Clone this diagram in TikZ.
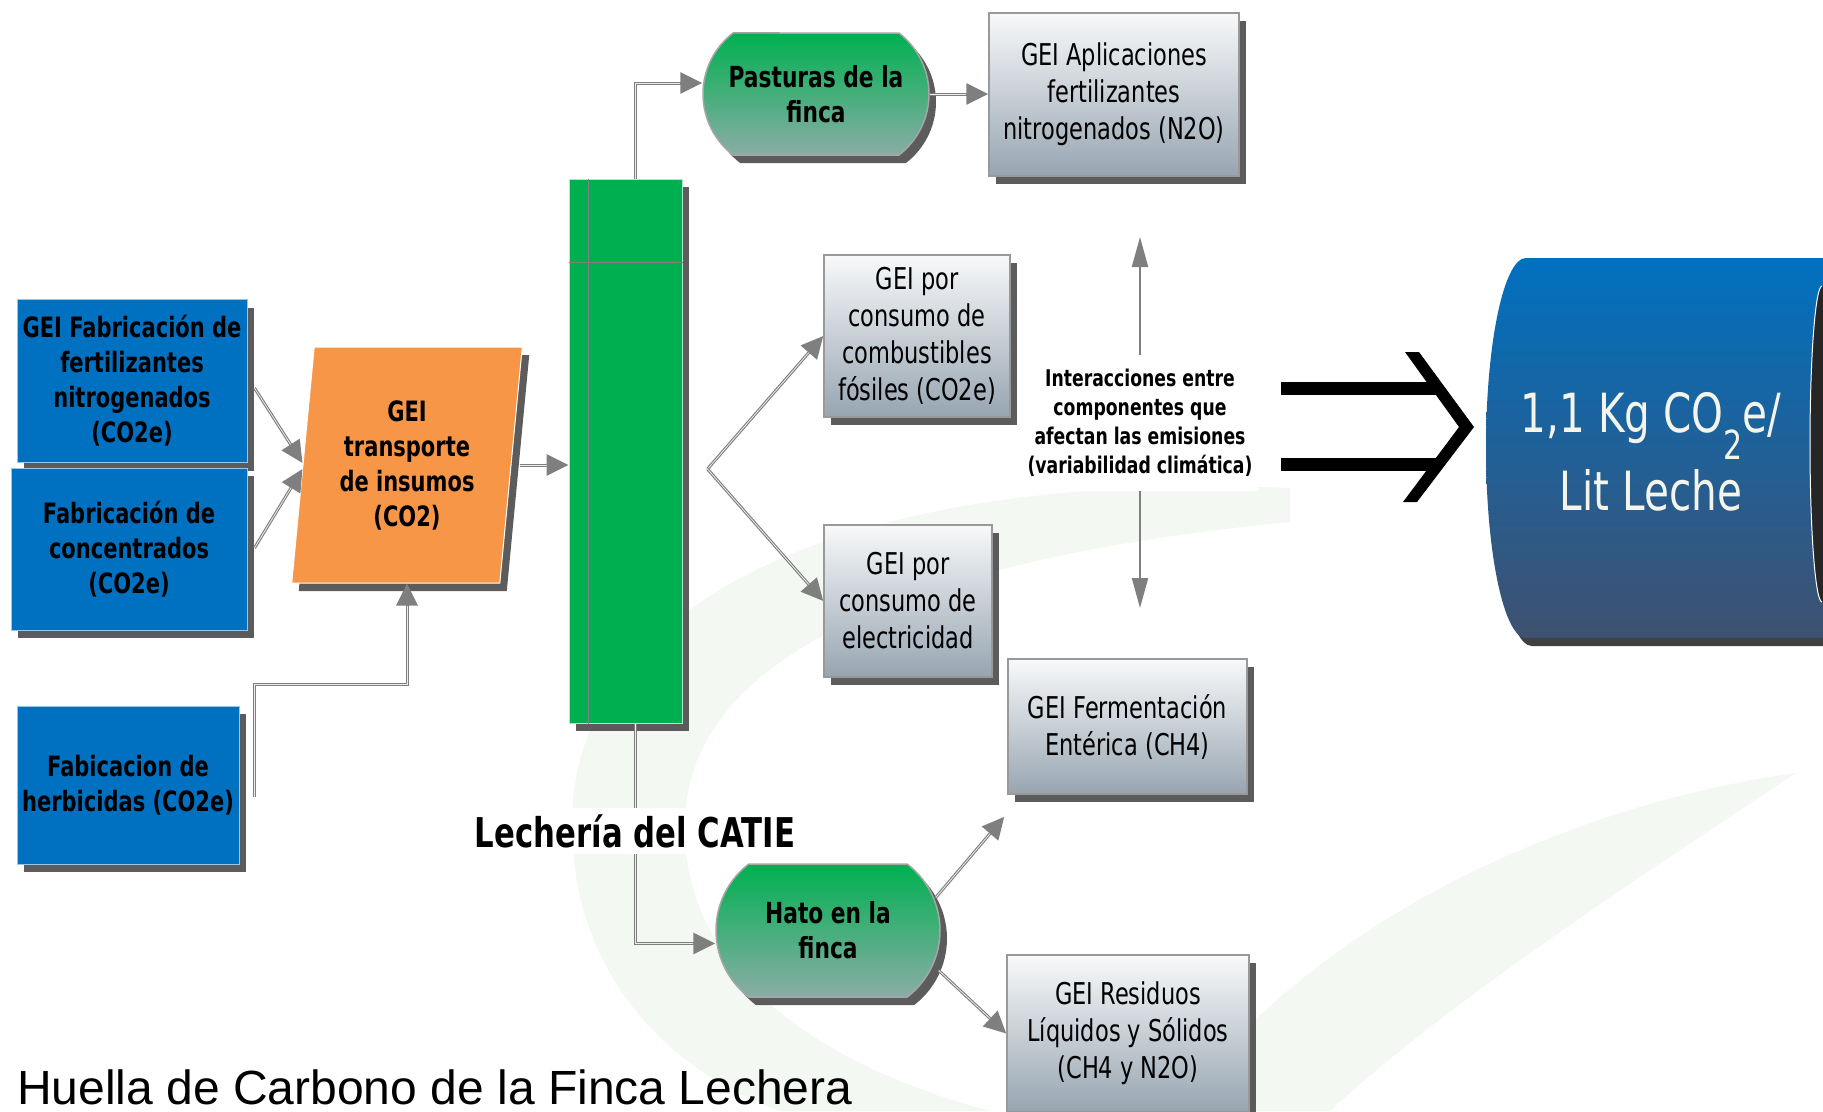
\documentclass[tikz,border=0pt]{standalone}
\usepackage{fontspec}
\setmainfont[FakeStretch=0.75]{DejaVu Sans}
\newfontfamily\titlefont{Liberation Sans}
\usetikzlibrary{shapes.geometric,shapes.misc,shadows,arrows.meta}

\definecolor{catieblue}{HTML}{0070C0}
\definecolor{insumo}{HTML}{F79646}
\definecolor{lechgreen}{HTML}{00B050}
\definecolor{fincabot}{HTML}{8AADA6}
\definecolor{boxtop}{HTML}{F8F9FA}
\definecolor{boxbot}{HTML}{97A5B1}
\definecolor{cylbot}{HTML}{3F5170}
\definecolor{conn}{HTML}{7F7F7F}
\definecolor{swoosh}{HTML}{F3F9F2}
\definecolor{cyltext}{HTML}{F4F4EA}

\tikzset{
  sombra/.style={drop shadow={shadow xshift=7pt,shadow yshift=-8pt,fill=black!75,opacity=.85}},
  fuente/.style={rectangle, fill=catieblue, draw=white!60!catieblue, line width=1pt, inner sep=0pt,
    align=center, font=\fontsize{28}{35}\selectfont\bfseries, sombra},
  emision/.style={rectangle, top color=boxtop, bottom color=boxbot, draw=gray!80, line width=1.5pt,
    inner sep=0pt, align=center, font=\fontsize{30}{37}\selectfont, sombra},
  finca/.style={rounded rectangle, rounded rectangle arc length=105, top color=lechgreen,
    bottom color=fincabot, draw=gray!70, line width=1.5pt, inner sep=0pt, align=center,
    font=\fontsize{29}{35}\selectfont\bfseries, sombra},
  conector/.style={draw=conn, line width=3pt, -{Triangle[length=22pt,width=21pt]},
    postaction={draw=white!85!gray, line width=0.8pt, -, shorten >=22pt}},
  flecha/.style={draw=conn, line width=2pt, -{Triangle[length=30pt,width=16pt]}}
}

\begin{document}
\begin{tikzpicture}[x=1pt,y=-1pt]
\useasboundingbox (0,0) rectangle (1823,1111);

% fondo
\fill[swoosh] (1290,488) .. controls (850,470) and (575,600) .. (572,820)
  .. controls (570,990) and (690,1080) .. (780,1111) -- (990,1111)
  .. controls (800,1060) and (680,960) .. (685,820)
  .. controls (690,660) and (900,560) .. (1290,522) -- cycle;
\fill[swoosh] (1796,773) .. controls (1600,800) and (1330,900) .. (1174,1111) -- (1330,1111)
  .. controls (1450,1000) and (1650,870) .. (1796,773) -- cycle;

\node[fuente, minimum width=230pt, minimum height=163pt] (fert) at (132,381) {GEI Fabricación de\\fertilizantes\\nitrogenados\\(CO2e)};
\node[fuente, minimum width=236pt, minimum height=162pt] (conc) at (129,549) {Fabricación de\\concentrados\\(CO2e)};
\node[fuente, minimum width=222pt, minimum height=158pt] (herb) at (128,785) {Fabicacion de\\herbicidas (CO2e)};

\node[trapezium, trapezium left angle=82.8, trapezium right angle=97.2, trapezium stretches=true,
  minimum width=231pt, minimum height=236pt, inner sep=0pt, fill=insumo, draw=white, line width=1pt,
  align=center, font=\fontsize{28}{35}\selectfont\bfseries, sombra] (transp) at (407,465)
  {GEI\\transporte\\de insumos\\(CO2)};

\node[rectangle, fill=lechgreen, draw=white!70!lechgreen, line width=1pt, minimum width=113pt,
  minimum height=544pt, sombra] (bar) at (625.5,451) {};
\draw[gray, line width=1.5pt] ([xshift=20pt]bar.north west) -- ([xshift=20pt]bar.south west);
\draw[gray, line width=1.5pt] ([yshift=-84pt]bar.north west) -- ([yshift=-84pt]bar.north east);

\node[finca, minimum width=226pt, minimum height=122pt] (past) at (816,94) {Pasturas de la\\finca};
\node[finca, minimum width=224pt, minimum height=133pt] (hato) at (828,930.5) {Hato en la\\finca};

\node[emision, minimum width=250pt, minimum height=163pt] (aplic) at (1114,94.5) {GEI Aplicaciones\\fertilizantes\\nitrogenados (N2O)};
\node[emision, minimum width=186pt, minimum height=162pt] (comb) at (917,336) {GEI por\\consumo de\\combustibles\\fósiles (CO2e)};
\node[emision, minimum width=168pt, minimum height=152pt] (elec) at (908,601) {GEI por\\consumo de\\electricidad};
\node[emision, minimum width=239pt, minimum height=135pt] (ferm) at (1127.5,726.5) {GEI Fermentación\\Entérica (CH4)};
\node[emision, minimum width=242pt, minimum height=157pt] (resid) at (1128,1033.5) {GEI Residuos\\Líquidos y Sólidos\\(CH4 y N2O)};

\draw[conector] ([xshift=7pt,yshift=-7pt]fert.east) -- ([yshift=2pt]transp.west);
\draw[conector] ([xshift=7pt,yshift=1pt]conc.east) -- ([yshift=-4pt]transp.west);
\draw[conector] ([xshift=15pt,yshift=-12pt]herb.east) -- ++(0,-113) -| (transp.south);
\draw[conector] ([xshift=8pt]transp.east) -- (bar.west |- transp.east);
\draw[conector] ([xshift=10pt]bar.north) |- ([yshift=11pt]past.west);
\draw[conector] (past.east) -- (aplic.west |- past.east);
\coordinate (split) at ([xshift=25pt,yshift=-18pt]bar.east);
\draw[conector] (split) -- (comb.west);
\draw[conector] (split) -- (elec.west);
\draw[conector] ([xshift=10pt]bar.south) |- ([yshift=-13pt]hato.west);
\draw[conector] ([xshift=-5pt,yshift=33pt]hato.east) -- ([xshift=-3pt,yshift=-22pt]ferm.south west);
\draw[conector] ([xshift=-2pt,yshift=-40pt]hato.east) -- (resid.west);

\node[fill=white, inner xsep=2pt, inner ysep=6pt, font=\fontsize{41}{41}\selectfont\bfseries] (catie) at (635,831) {Lechería del CATIE};

\node[fill=white, align=center, inner xsep=6pt, inner ysep=14pt, font=\fontsize{23}{29}\selectfont\bfseries] (inter) at (1140,423)
  {Interacciones entre\\componentes que\\afectan las emisiones\\(variabilidad climática)};
\coordinate (arriba) at (1140,237);
\coordinate (abajo) at (1140,608);
\draw[flecha] (inter.north) -- (arriba);
\draw[flecha] (inter.south) -- (abajo);

\foreach \y in {382,458}
{
\fill[black] (1281,\y) rectangle (1436,\y+13);
}
\fill[black] (1405,352) -- (1419,352) -- (1474,427) -- (1417,502) -- (1403,502) -- (1459,427) -- cycle;

\fill[black!75] (1829,266) -- (1532,266) arc[start angle=90,end angle=270,x radius=40pt,y radius=190pt] -- (1829,646) -- cycle;
\shade[top color=catieblue, bottom color=cylbot] (1823,258) -- (1526,258)
  arc[start angle=90,end angle=270,x radius=40pt,y radius=190pt] -- (1823,638) -- cycle;
\fill[black!85] (1823,286) -- (1822,286) arc[start angle=90,end angle=270,x radius=12pt,y radius=158pt] -- (1823,602) -- cycle;
\draw[white, line width=1pt] (1822,286) arc[start angle=90,end angle=270,x radius=12pt,y radius=158pt];
\node[text=cyltext, align=center, font=\fontsize{54}{78}\selectfont] (total) at (1651,452)
  {1,1 Kg CO\raisebox{-0.5em}{\fontsize{40}{40}\selectfont 2}e/\\Lit Leche};

\node[anchor=base west, inner sep=0pt, font=\titlefont\fontsize{48}{48}\selectfont] (titulo) at (17,1104) {Huella de Carbono de la Finca Lechera};

\end{tikzpicture}
\end{document}
